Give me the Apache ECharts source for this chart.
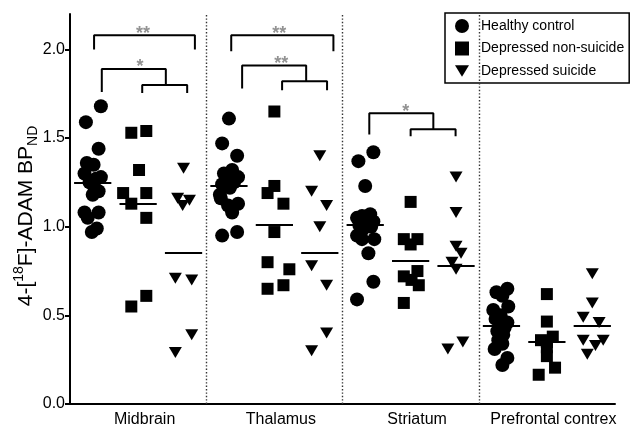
<!DOCTYPE html>
<html><head><meta charset="utf-8">
<script src="https://cdn.jsdelivr.net/npm/echarts@6/dist/echarts.min.js"></script>
<style>html,body{margin:0;padding:0;background:#fff}#c{width:633px;height:426px}</style>
</head><body><div id="c"></div>
<script>
// ---------- DATA ----------
const regions = ['Midbrain', 'Thalamus', 'Striatum', 'Prefrontal contrex'];
const groups = ['Healthy control', 'Depressed non-suicide', 'Depressed suicide'];
const yTicks = [0, 0.5, 1.0, 1.5, 2.0];

// Healthy control
const hcMidbrain   = [1.68,1.59,1.44,1.36,1.35,1.30,1.28,1.27,1.25,1.22,1.20,1.18,1.08,1.08,1.05,0.99,0.97];
const hcThalamus   = [1.61,1.47,1.40,1.32,1.30,1.28,1.27,1.25,1.24,1.22,1.18,1.16,1.13,1.12,1.08,0.97,0.95];
const hcStriatum   = [1.42,1.37,1.23,1.07,1.06,1.05,1.03,1.02,1.01,1.00,0.98,0.95,0.93,0.93,0.85,0.69,0.59];
const hcPrefrontal = [0.65,0.63,0.61,0.55,0.53,0.50,0.48,0.46,0.45,0.43,0.41,0.39,0.36,0.34,0.31,0.26,0.22];
// Depressed non-suicide
const dnsMidbrain   = [1.54,1.53,1.32,1.19,1.19,1.13,1.05,0.61,0.55];
const dnsThalamus   = [1.65,1.23,1.19,1.13,0.97,0.80,0.76,0.67,0.65];
const dnsStriatum   = [1.14,0.93,0.93,0.90,0.75,0.72,0.70,0.67,0.57];
const dnsPrefrontal = [0.62,0.465,0.38,0.36,0.35,0.32,0.27,0.205,0.165];
// Depressed suicide
const dsMidbrain   = [1.33,1.16,1.15,1.12,0.71,0.70,0.39,0.29];
const dsThalamus   = [1.40,1.20,1.12,1.00,0.78,0.67,0.40,0.30];
const dsStriatum   = [1.28,1.08,0.89,0.85,0.80,0.76,0.35,0.31];
const dsPrefrontal = [0.735,0.57,0.49,0.46,0.36,0.36,0.33,0.28];

// horizontal scatter (jitter) of each point, in category-slot units
const hcMidbrainJit   = [0.18,-0.15,0.13,-0.13,0.02,-0.18,0.18,0.07,-0.07,0.04,0.13,0,-0.18,0.13,-0.11,0.09,-0.02];
const hcThalamusJit   = [0,-0.15,0.18,0.07,-0.11,0.2,-0.04,0.11,-0.15,0.02,-0.2,-0.18,0.2,-0.02,0.07,0.18,-0.15];
const hcStriatumJit   = [0.18,-0.15,0,0.11,-0.07,-0.18,0.18,0,-0.13,0.13,-0.07,-0.18,-0.07,0.2,0.07,0.18,-0.18];
const hcPrefrontalJit = [0.13,-0.11,0.02,0.15,-0.18,-0.02,-0.13,0.13,0,0.07,-0.09,0.04,-0.07,0.02,-0.15,0.13,0.02];
const dnsMidbrainJit   = [0.18,-0.15,0.02,-0.33,0.18,-0.15,0.18,0.18,-0.15];
const dnsThalamusJit   = [0,0,-0.15,0.2,0,-0.15,0.33,0.2,-0.15];
const dnsStriatumJit   = [0,-0.15,0.15,0,0.15,-0.15,0.02,0.18,-0.15];
const dnsPrefrontalJit = [0,0,0.13,-0.13,0,0,0,0.18,-0.18];
const dsMidbrainJit   = [0,-0.13,0.13,-0.02,-0.18,0.18,0.18,-0.18];
const dsThalamusJit   = [0,-0.18,0.15,0,-0.18,0.15,0.15,-0.18];
const dsStriatumJit   = [0,0,0,0.11,-0.09,0,0.15,-0.18];
const dsPrefrontalJit = [0,0,-0.2,0.15,-0.2,0.24,0.07,-0.11];

// group mean lines (per region)
const meansHC  = [1.25, 1.23, 1.01, 0.44];
const meansDNS = [1.13, 1.01, 0.81, 0.35];
const meansDS  = [0.855, 0.855, 0.78, 0.44];

// significance brackets: [region, xLeft, xRight, yTop, yLeg, starX, label]
const bracketsTop = [
  [0, 0.53, 2.75, 2.08, 2.00, 1.61, '**'],
  [1, 0.55, 2.80, 2.08, 1.99, 1.61, '**']
];
// nested: [region, xLeft, xJoin, yTop, yLegLeft, xSubL, xSubR, ySub, ySubLeg, starX, label]
const bracketsNested = [
  [0, 0.70, 2.11, 1.89, 1.76, 1.59, 2.58, 1.80, 1.755, 1.54, '*'],
  [1, 0.79, 2.20, 1.91, 1.78, 1.67, 2.66, 1.82, 1.77, 1.65, '**'],
  [2, 0.59, 2.00, 1.64, 1.52, 1.50, 2.49, 1.55, 1.51, 1.39, '*']
];

// ---------- CHART ----------
const FONT = '"Liberation Sans", Arial, Helvetica, sans-serif';
const triPath = 'path://M0,0L12,0L6,10Z';
const symbols = ['circle', 'rect', triPath];
const symbolSizes = [14, 12, [13, 11]];
const groupValues = [
  [hcMidbrain, hcThalamus, hcStriatum, hcPrefrontal],
  [dnsMidbrain, dnsThalamus, dnsStriatum, dnsPrefrontal],
  [dsMidbrain, dsThalamus, dsStriatum, dsPrefrontal]
];
const groupJitter = [
  [hcMidbrainJit, hcThalamusJit, hcStriatumJit, hcPrefrontalJit],
  [dnsMidbrainJit, dnsThalamusJit, dnsStriatumJit, dnsPrefrontalJit],
  [dsMidbrainJit, dsThalamusJit, dsStriatumJit, dsPrefrontalJit]
];
const groupMeans = [meansHC, meansDNS, meansDS];
const SLOTS = 3; // three groups per region
const HALF = 0.41;

const series = [];
groups.forEach((g, gi) => {
  const data = [];
  regions.forEach((r, ri) => {
    groupValues[gi][ri].forEach((v, i) => {
      data.push([ri * SLOTS + gi + 0.5 + groupJitter[gi][ri][i], v]);
    });
  });
  series.push({
    name: g, type: 'scatter', data: data,
    symbol: symbols[gi], symbolSize: symbolSizes[gi],
    itemStyle: { color: '#000', opacity: 1 }, z: 3, silent: true,
    markLine: {
      silent: true, symbol: 'none', label: { show: false },
      lineStyle: { color: '#000', width: 2, type: 'solid' },
      emphasis: { disabled: true },
      data: groupMeans[gi].map((m, ri) => [
        { coord: [ri * SLOTS + gi + 0.5 - HALF, m] },
        { coord: [ri * SLOTS + gi + 0.5 + HALF, m] }
      ])
    }
  });
});

const lineStyleB = { color: '#000', width: 2 };
const starData = [];
bracketsTop.forEach(([ri, xl, xr, yt, yl, sx, lab]) => {
  const o = ri * SLOTS;
  series.push({ type: 'line', silent: true, symbol: 'none', lineStyle: lineStyleB, z: 4,
    data: [[o + xl, yl], [o + xl, yt], [o + xr, yt], [o + xr, yl]] });
  starData.push([o + sx, yt, lab]);
});
bracketsNested.forEach(([ri, xl, xj, yt, yll, sl, sr, ys, ysl, sx, lab]) => {
  const o = ri * SLOTS;
  series.push({ type: 'line', silent: true, symbol: 'none', lineStyle: lineStyleB, z: 4,
    data: [[o + xl, yll], [o + xl, yt], [o + xj, yt], [o + xj, ys]] });
  series.push({ type: 'line', silent: true, symbol: 'none', lineStyle: lineStyleB, z: 4,
    data: [[o + sl, ysl], [o + sl, ys], [o + sr, ys], [o + sr, ysl]] });
  starData.push([o + sx, yt, lab]);
});

series.push({
  type: 'scatter', silent: true, symbolSize: 1, z: 5,
  itemStyle: { color: 'rgba(0,0,0,0)' },
  data: starData,
  label: { show: true, position: 'top', distance: 0, offset: [0, 8],
    formatter: p => p.value[2], color: '#777', fontSize: 18, fontWeight: 'bold', fontFamily: FONT }
});

// dotted region separators
series.push({
  type: 'line', silent: true, data: [[0, 0]], symbol: 'none', lineStyle: { width: 0 },
  markLine: {
    silent: true, symbol: 'none', label: { show: false },
    emphasis: { disabled: true },
    lineStyle: { color: '#333', width: 1.4, type: [1.4, 2] },
    data: [1, 2, 3].map(k => ({ xAxis: k * SLOTS }))
  }
});

const option = {
  animation: false,
  backgroundColor: '#fff',
  grid: { left: 70, right: 18, top: 14, bottom: 22, containLabel: false, outerBoundsMode: 'none' },
  legend: {
    orient: 'vertical', left: 445, top: 13,
    itemWidth: 14, itemHeight: 14, itemGap: 8.5,
    padding: [6, 5, 5, 10],
    borderColor: '#000', borderWidth: 1.5, borderRadius: 0,
    selectedMode: false,
    textStyle: { fontSize: 14, lineHeight: 14, color: '#000', fontFamily: FONT, padding: [0, 0, 0, 7] },
    data: groups.map((g, i) => ({ name: g, icon: symbols[i], itemStyle: { color: '#000' } }))
  },
  xAxis: {
    type: 'value', min: 0, max: 12, interval: 1.5,
    axisLine: { show: true, onZero: false, lineStyle: { color: '#000', width: 2 } },
    axisTick: { show: false }, splitLine: { show: false },
    axisLabel: {
      color: '#000', fontSize: 16, fontFamily: FONT, margin: 8, padding: [0, 0, 0, 13],
      formatter: v => {
        const k = (v - 1.5) / SLOTS;
        const r = Math.round(k);
        return (Math.abs(k - r) < 1e-6 && r >= 0 && r < regions.length) ? regions[r] : '';
      }
    }
  },
  yAxis: {
    type: 'value', min: 0, max: 2.2, interval: 0.5,
    axisLine: { show: true, lineStyle: { color: '#000', width: 2 } },
    axisTick: { show: true, length: 5, lineStyle: { color: '#000', width: 2 }, customValues: yTicks },
    axisLabel: { customValues: yTicks, formatter: v => v.toFixed(1), color: '#000', fontSize: 16, fontFamily: FONT, margin: 5 },
    splitLine: { show: false },
    name: '{n|4-[}{sup|18}{n|F]-ADAM BP}{sub|ND}',
    nameLocation: 'middle', nameGap: 30, nameRotate: 90, nameMoveOverlap: false,
    nameTextStyle: {
      color: '#000', fontFamily: FONT, fontSize: 21, padding: [0, 14, 0, 0],
      rich: {
        n: { fontSize: 21, lineHeight: 28, fontFamily: FONT, color: '#000' },
        sup: { fontSize: 14, lineHeight: 14, verticalAlign: 'top', fontFamily: FONT, color: '#000' },
        sub: { fontSize: 14, lineHeight: 14, verticalAlign: 'bottom', fontFamily: FONT, color: '#000' }
      }
    }
  },
  series: series
};

const chart = echarts.init(document.getElementById('c'), null, { renderer: 'canvas' });
chart.setOption(option);
</script>
</body></html>
